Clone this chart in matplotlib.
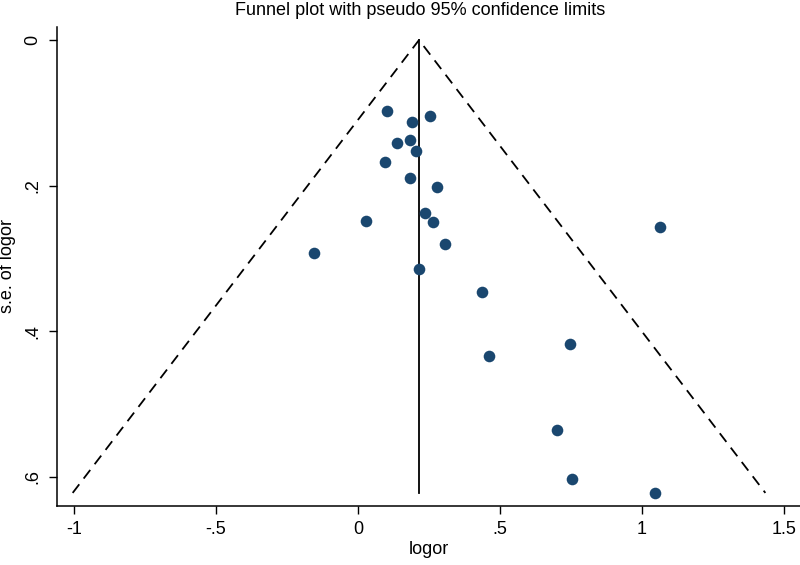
import matplotlib
matplotlib.use("Agg")
import matplotlib.pyplot as plt
from matplotlib.ticker import FuncFormatter

plt.rcParams['font.family'] = ['Liberation Sans', 'DejaVu Sans']

# study estimates
logor = [0.103, 0.255, 0.190, 0.138, 0.182, 0.205, 0.094, 0.182, 0.277,
         0.237, 0.263, 0.028, 0.306, -0.154, 0.215, 1.063, 0.438, 0.462,
         0.745, 0.700, 0.755, 1.045]
se_logor = [0.097, 0.104, 0.113, 0.142, 0.138, 0.152, 0.167, 0.190, 0.202,
            0.237, 0.250, 0.249, 0.280, 0.292, 0.314, 0.257, 0.346, 0.434,
            0.418, 0.535, 0.603, 0.622]
pooled = 0.215

x_ticks = [-1, -0.5, 0, 0.5, 1, 1.5]
y_ticks = [0, 0.2, 0.4, 0.6]

NAVY = '#1a476f'


def fmt(v, pos):
    s = ('%g' % v)
    if s.startswith('0.'):
        s = s[1:]
    elif s.startswith('-0.'):
        s = '-' + s[2:]
    return s


def main():
    fig = plt.figure(figsize=(8, 5.65), dpi=100)
    ax = fig.add_axes([0.071, 0.1044, 0.929, 0.848])

    se_max = max(se_logor)
    # pseudo 95% limits
    ax.plot([pooled - 1.96 * se_max, pooled, pooled + 1.96 * se_max],
            [se_max, 0, se_max], color='black', lw=1.3,
            linestyle=(0, (6, 4)))
    ax.plot([pooled, pooled], [0, se_max], color='black', lw=1.3)
    ax.scatter(logor, se_logor, s=70, color=NAVY, zorder=3, linewidths=0)

    ax.set_xlim(-1.06, 1.556)
    ax.set_ylim(0.640, -0.018)
    ax.set_xticks(x_ticks)
    ax.set_yticks(y_ticks)
    ax.xaxis.set_major_formatter(FuncFormatter(fmt))
    ax.yaxis.set_major_formatter(FuncFormatter(fmt))
    ax.tick_params(direction='out', length=6, width=1, labelsize=13, pad=5)
    for lab in ax.get_yticklabels():
        lab.set_rotation(90)
        lab.set_va('center')

    for side in ['top', 'right']:
        ax.spines[side].set_visible(False)
    for side in ['left', 'bottom']:
        ax.spines[side].set_linewidth(1.1)

    ax.set_xlabel('logor', fontsize=13, labelpad=2)
    ax.set_ylabel('s.e. of logor', fontsize=13, labelpad=6)
    fig.text(0.525, 0.982, 'Funnel plot with pseudo 95% confidence limits',
             ha='center', va='center', fontsize=13)

    fig.savefig('out.png', dpi=100)


if __name__ == '__main__':
    main()
